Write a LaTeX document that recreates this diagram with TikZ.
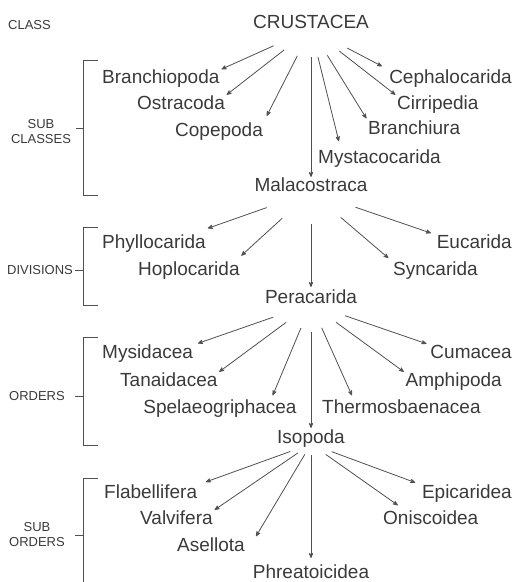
\documentclass[tikz,border=0pt]{standalone}
\usepackage{fontspec}
\setmainfont{Liberation Sans}
\usepackage{xcolor}
\usepackage{tikz}
\usetikzlibrary{arrows, positioning}
\definecolor{ink}{HTML}{3A3A3A}
\definecolor{wire}{HTML}{505050}
\tikzset{
    taxon/.style={
        font=\fontsize{19}{21}\selectfont,
        text=ink,
        inner sep=0pt,
        text height=13.6pt,
        text depth=0pt,
    },
    rank/.style={
        font=\fontsize{13}{15}\selectfont,
        text=ink,
        inner sep=0pt,
        align=center,
    },
    bracket/.style={
        draw=wire,
        line width=0.8pt,
    },
    arr/.style={
        ->,
        color=wire,
        line width=0.8pt,
        shorten >=2pt,
    },
}

\begin{document}
\begin{tikzpicture}[x=1pt,y=-1pt,>=stealth']
      \useasboundingbox (0,0) rectangle (517,582);

      % class
      \node [rank, anchor=west] (class) at (8,25) {CLASS};
      \node [taxon] (crus) at (311,22) {CRUSTACEA};

      % sub classes
      \node [rank] (subcl) at (41,132) {SUB\\CLASSES};
      \draw [bracket] (98,60) -| (83,195) -- (98,195);
      \draw [bracket] (76,128) -- (83,128);
      \node [taxon, anchor=west] (bran) at (102,77) {Branchiopoda};
      \node [taxon, anchor=west] (ostr) at (137,103) {Ostracoda};
      \node [taxon, anchor=west] (cope) at (175,130) {Copepoda};
      \node [taxon] (mala) at (311,185) {Malacostraca};
      \node [taxon, anchor=west] (myst) at (318,157) {Mystacocarida};
      \node [taxon, anchor=west] (bchi) at (368,128) {Branchiura};
      \node [taxon, anchor=west] (cirr) at (397,103) {Cirripedia};
      \node [taxon, anchor=east] (ceph) at (512,77) {Cephalocarida};

      \path[arr] (crus.south)
          edge [shorten <=41pt] (bran.north east)
          edge [shorten <=34pt] (ostr.north east)
          edge [shorten <=30pt, shorten >=8pt] (cope.north east)
          edge [shorten <=28pt, shorten >=1pt] (mala.north)
          edge [shorten <=29pt, shorten >=9pt] ([xshift=23pt]myst.north west)
          edge [shorten <=31pt, shorten >=3pt] (bchi.north west)
          edge [shorten <=36pt] (cirr.north west)
          edge [shorten <=41pt, shorten >=8pt] (ceph.north west);

      % divisions
      \node [rank] (divi) at (40,270) {DIVISIONS};
      \draw [bracket] (98,227) -| (83,305) -- (98,305);
      \draw [bracket] (75,270) -- (83,270);
      \node [taxon, anchor=west] (phyl) at (102,242) {Phyllocarida};
      \node [taxon, anchor=west] (hopl) at (138,269) {Hoplocarida};
      \node [taxon] (pera) at (311,297) {Peracarida};
      \node [taxon, anchor=west] (sync) at (393,269) {Syncarida};
      \node [taxon, anchor=east] (euca) at (512,242) {Eucarida};

      \path[arr] (mala.south)
          edge [shorten <=47pt] ([yshift=6pt]phyl.north east)
          edge [shorten <=39pt] ([yshift=5pt]hopl.north east)
          edge [shorten <=32pt, shorten >=3pt] (pera.north)
          edge [shorten <=39pt, shorten >=6pt] (sync.north west)
          edge [shorten <=47pt, shorten >=6pt] (euca.north west);

      % orders
      \node [rank] (orde) at (37,396) {ORDERS};
      \draw [bracket] (98,337) -| (83,445) -- (98,445);
      \draw [bracket] (75,396) -- (83,396);
      \node [taxon, anchor=west] (mysi) at (102,352) {Mysidacea};
      \node [taxon, anchor=west] (tana) at (120,380) {Tanaidacea};
      \node [taxon] (spel) at (220,407) {Spelaeogriphacea};
      \node [taxon] (iso) at (311,437) {Isopoda};
      \node [taxon, anchor=west] (ther) at (322,407) {Thermosbaenacea};
      \node [taxon, anchor=east] (amph) at (502,380) {Amphipoda};
      \node [taxon, anchor=east] (cuma) at (512,352) {Cumacea};

      \path[arr] (pera.south)
          edge [shorten <=40pt, shorten >=5pt] (mysi.north east)
          edge [shorten <=31pt] (tana.north east)
          edge [shorten <=26pt, shorten >=5pt] ([xshift=-26pt]spel.north east)
          edge [shorten <=28pt] (iso.north)
          edge [shorten <=26pt, shorten >=5pt] ([xshift=32pt]ther.north west)
          edge [shorten <=31pt] (amph.north west)
          edge [shorten <=36pt, shorten >=4pt] (cuma.north west);

      % sub orders
      \node [rank] (subor) at (37,535) {SUB\\ORDERS};
      \draw [bracket] (98,478) -| (83,582);
      \draw [bracket] (75,535) -- (83,535);
      \node [taxon, anchor=west] (flab) at (104,492) {Flabellifera};
      \node [taxon, anchor=west] (valv) at (140,518) {Valvifera};
      \node [taxon, anchor=west] (asel) at (177,545) {Asellota};
      \node [taxon] (phre) at (311,572) {Phreatoicidea};
      \node [taxon, anchor=west] (onis) at (383,518) {Oniscoidea};
      \node [taxon, anchor=east] (epic) at (512,492) {Epicaridea};

      \path[arr] (iso.south)
          edge [shorten <=22pt, shorten >=9pt] (flab.north east)
          edge [shorten <=16pt] (valv.north east)
          edge [shorten <=12pt] ([xshift=10pt]asel.north east)
          edge [shorten <=11pt, shorten >=7pt] (phre.north)
          edge [shorten <=18pt, shorten >=10pt] ([xshift=23pt]onis.north west)
          edge [shorten <=22pt, shorten >=7pt] (epic.north west);
    \end{tikzpicture}
\end{document}
